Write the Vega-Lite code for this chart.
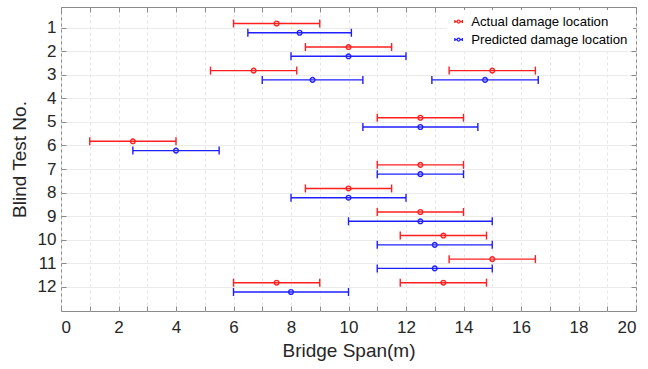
{
  "$schema": "https://vega.github.io/schema/vega-lite/v6.json",
  "width": 575,
  "height": 304,
  "autosize": {"type": "none"},
  "padding": {"left": 61, "top": 7, "right": 12, "bottom": 58},
  "background": "white",
  "config": {
    "view": {"stroke": "#8a8a8a", "strokeWidth": 1},
    "font": "Liberation Sans",
    "axis": {"labelFont": "Liberation Sans", "titleFont": "Liberation Sans", "labelColor": "#262626", "titleColor": "#262626", "titleFontWeight": "normal", "domain": false}
  },
  "resolve": {"axis": {"x": "independent", "y": "independent"}},
  "data": {"values": [
    {"test": 1, "series": "Actual damage location", "value": 7.5, "lo": 6, "hi": 9},
    {"test": 1, "series": "Predicted damage location", "value": 8.3, "lo": 6.5, "hi": 10.1},
    {"test": 2, "series": "Actual damage location", "value": 10, "lo": 8.5, "hi": 11.5},
    {"test": 2, "series": "Predicted damage location", "value": 10, "lo": 8, "hi": 12},
    {"test": 3, "series": "Actual damage location", "value": 6.7, "lo": 5.2, "hi": 8.2},
    {"test": 3, "series": "Actual damage location", "value": 15, "lo": 13.5, "hi": 16.5},
    {"test": 3, "series": "Predicted damage location", "value": 8.75, "lo": 7, "hi": 10.5},
    {"test": 3, "series": "Predicted damage location", "value": 14.75, "lo": 12.9, "hi": 16.6},
    {"test": 5, "series": "Actual damage location", "value": 12.5, "lo": 11, "hi": 14},
    {"test": 5, "series": "Predicted damage location", "value": 12.5, "lo": 10.5, "hi": 14.5},
    {"test": 6, "series": "Actual damage location", "value": 2.5, "lo": 1, "hi": 4},
    {"test": 6, "series": "Predicted damage location", "value": 4, "lo": 2.5, "hi": 5.5},
    {"test": 7, "series": "Actual damage location", "value": 12.5, "lo": 11, "hi": 14},
    {"test": 7, "series": "Predicted damage location", "value": 12.5, "lo": 11, "hi": 14},
    {"test": 8, "series": "Actual damage location", "value": 10, "lo": 8.5, "hi": 11.5},
    {"test": 8, "series": "Predicted damage location", "value": 10, "lo": 8, "hi": 12},
    {"test": 9, "series": "Actual damage location", "value": 12.5, "lo": 11, "hi": 14},
    {"test": 9, "series": "Predicted damage location", "value": 12.5, "lo": 10, "hi": 15},
    {"test": 10, "series": "Actual damage location", "value": 13.3, "lo": 11.8, "hi": 14.8},
    {"test": 10, "series": "Predicted damage location", "value": 13, "lo": 11, "hi": 15},
    {"test": 11, "series": "Actual damage location", "value": 15, "lo": 13.5, "hi": 16.5},
    {"test": 11, "series": "Predicted damage location", "value": 13, "lo": 11, "hi": 15},
    {"test": 12, "series": "Actual damage location", "value": 7.5, "lo": 6, "hi": 9},
    {"test": 12, "series": "Actual damage location", "value": 13.3, "lo": 11.8, "hi": 14.8},
    {"test": 12, "series": "Predicted damage location", "value": 8, "lo": 6, "hi": 10}
  ]},
  "encoding": {
    "yOffset": {
      "field": "series", "type": "nominal",
      "scale": {"domain": ["Actual damage location", "Predicted damage location"], "paddingInner": 0, "paddingOuter": 0.27}
    },
    "color": {
      "field": "series", "type": "nominal",
      "scale": {"domain": ["Actual damage location", "Predicted damage location"], "range": ["#ff1f1f", "#1f1fff"]},
      "legend": {
        "title": null, "orient": "none", "legendX": 386, "legendY": 3,
        "fillColor": "white", "padding": 5, "rowPadding": 4,
        "labelFont": "Liberation Sans", "labelFontSize": 13.2, "labelColor": "#000000", "labelOffset": 6, "labelLimit": 300,
        "symbolType": "M-1,0H-0.4M0.4,0H1M-1,-0.4V0.4M1,-0.4V0.4M0.4,0A0.4,0.4 0 1,1 -0.4,0A0.4,0.4 0 1,1 0.4,0",
        "symbolSize": 56, "symbolStrokeWidth": 1.3, "symbolFillColor": "transparent"
      }
    }
  },
  "layer": [
    {
      "mark": {"type": "rule", "strokeWidth": 1.4},
      "encoding": {
        "y": {
          "field": "test", "type": "ordinal",
          "scale": {"domain": [1,2,3,4,5,6,7,8,9,10,11,12], "paddingInner": 0, "paddingOuter": 0.45, "align": 0.44},
          "axis": {"title": "Blind Test No.", "titleFontSize": 19, "titlePadding": 8, "labelFontSize": 17, "labelPadding": 10, "labelAngle": 0, "grid": true, "gridColor": "#ebebeb", "bandPosition": 0.5, "tickSize": -5, "tickColor": "#8a8a8a", "tickBand": "center"}
        },
        "x": {
          "field": "lo", "type": "quantitative",
          "scale": {"domain": [0, 20], "nice": false, "zero": false},
          "axis": {"title": "Bridge Span(m)", "titleFontSize": 19, "titlePadding": 6, "labelFontSize": 17, "labelPadding": 13, "values": [0,1,2,3,4,5,6,7,8,9,10,11,12,13,14,15,16,17,18,19,20], "labelExpr": "datum.value % 2 === 0 ? datum.label : ''", "grid": true, "gridColor": "#e6e6e6", "gridDash": [3, 3], "tickSize": -5, "tickColor": "#8a8a8a"}
        },
        "x2": {"field": "hi"}
      }
    },
    {
      "mark": {"type": "point", "shape": "M0,-1V1", "size": 64, "strokeWidth": 1.4, "filled": false, "opacity": 1},
      "encoding": {
        "y": {"field": "test", "type": "ordinal", "axis": null},
        "x": {"field": "lo", "type": "quantitative", "axis": null}
      }
    },
    {
      "mark": {"type": "point", "shape": "M0,-1V1", "size": 64, "strokeWidth": 1.4, "filled": false, "opacity": 1},
      "encoding": {
        "y": {"field": "test", "type": "ordinal", "axis": null},
        "x": {"field": "hi", "type": "quantitative", "axis": null}
      }
    },
    {
      "mark": {"type": "point", "shape": "circle", "size": 22, "strokeWidth": 1.4, "filled": false, "opacity": 1},
      "encoding": {
        "y": {"field": "test", "type": "ordinal", "axis": null},
        "x": {"field": "value", "type": "quantitative", "axis": null}
      }
    },
    {
      "mark": {"type": "point", "opacity": 0},
      "encoding": {
        "x": {"field": "value", "type": "quantitative", "axis": {"orient": "top", "title": null, "labels": false, "grid": false, "values": [0,1,2,3,4,5,6,7,8,9,10,11,12,13,14,15,16,17,18,19,20], "tickSize": -5, "tickColor": "#8a8a8a"}},
        "y": {"field": "test", "type": "ordinal", "axis": {"orient": "right", "title": null, "labels": false, "grid": false, "bandPosition": 0.5, "tickSize": -5, "tickColor": "#8a8a8a"}}
      }
    }
  ]
}
